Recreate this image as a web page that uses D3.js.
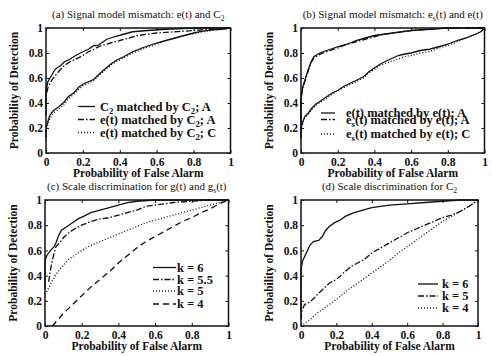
<!DOCTYPE html>
<html>
<head>
<meta charset="utf-8">
<script src="https://cdn.jsdelivr.net/npm/d3@7"></script>
<style>
  body { margin: 0; background: #fff; }
  svg { font-family: "Liberation Serif", "DejaVu Serif", serif; }
</style>
</head>
<body>
<script>
// tick labels shared by every panel
const tickValues = [0, 0.2, 0.4, 0.6, 0.8, 1];
const tickLabels = ["0", "0.2", "0.4", "0.6", "0.8", "1"];

// (a) signal model mismatch: e(t) and C2  -- [Pfa, Pd]
const aC2A = [[0,0.35],[0,0.5],[0.01,0.57],[0.03,0.62],[0.05,0.67],[0.08,0.70],[0.1,0.73],[0.13,0.75],[0.16,0.78],[0.2,0.81],[0.23,0.83],[0.26,0.86],[0.28,0.86],[0.3,0.88],[0.33,0.91],[0.37,0.93],[0.42,0.95],[0.47,0.97],[0.55,0.98],[0.65,0.99],[0.8,1],[1,1]];
const aEtA = [[0,0.3],[0,0.45],[0.01,0.52],[0.03,0.58],[0.05,0.62],[0.08,0.67],[0.1,0.70],[0.13,0.73],[0.16,0.75],[0.2,0.78],[0.23,0.81],[0.26,0.83],[0.3,0.86],[0.35,0.88],[0.4,0.90],[0.45,0.92],[0.5,0.94],[0.6,0.96],[0.7,0.97],[0.8,0.98],[0.9,0.99],[1,1]];
const aC2Low = [[0,0.12],[0,0.2],[0.01,0.25],[0.02,0.3],[0.04,0.34],[0.07,0.37],[0.1,0.41],[0.12,0.45],[0.15,0.48],[0.18,0.53],[0.2,0.55],[0.23,0.57],[0.26,0.59],[0.28,0.62],[0.31,0.66],[0.35,0.71],[0.38,0.74],[0.42,0.77],[0.47,0.81],[0.52,0.84],[0.56,0.86],[0.6,0.88],[0.65,0.9],[0.7,0.92],[0.75,0.94],[0.8,0.96],[0.85,0.975],[0.9,0.985],[0.95,0.99],[1,1]];
const aEtC = [[0,0.1],[0,0.17],[0.01,0.23],[0.02,0.27],[0.04,0.32],[0.07,0.35],[0.1,0.39],[0.12,0.43],[0.15,0.47],[0.18,0.51],[0.2,0.54],[0.23,0.56],[0.26,0.58],[0.28,0.61],[0.31,0.65],[0.35,0.7],[0.38,0.73],[0.42,0.76],[0.47,0.8],[0.52,0.83],[0.56,0.85],[0.6,0.87],[0.65,0.9],[0.7,0.92],[0.75,0.94],[0.8,0.955],[0.85,0.97],[0.9,0.98],[0.95,0.99],[1,1]];

// (b) signal model mismatch: es(t) and e(t)
const bEtA = [[0,0.2],[0,0.45],[0.01,0.53],[0.025,0.6],[0.04,0.67],[0.055,0.73],[0.07,0.77],[0.09,0.79],[0.12,0.81],[0.16,0.83],[0.2,0.85],[0.25,0.87],[0.3,0.9],[0.35,0.92],[0.4,0.94],[0.45,0.95],[0.5,0.96],[0.55,0.97],[0.6,0.98],[0.7,0.99],[0.8,1],[1,1]];
const bEsA = [[0,0.18],[0,0.43],[0.01,0.52],[0.025,0.59],[0.04,0.66],[0.055,0.72],[0.07,0.76],[0.09,0.78],[0.12,0.8],[0.16,0.82],[0.2,0.84],[0.25,0.87],[0.3,0.89],[0.35,0.91],[0.4,0.93],[0.45,0.95],[0.5,0.96],[0.55,0.97],[0.6,0.98],[0.7,0.99],[0.8,1],[1,1]];
const bEtLow = [[0,0.12],[0,0.2],[0.01,0.25],[0.02,0.29],[0.04,0.32],[0.06,0.36],[0.08,0.39],[0.1,0.41],[0.13,0.44],[0.17,0.48],[0.2,0.5],[0.23,0.53],[0.27,0.56],[0.3,0.58],[0.34,0.61],[0.37,0.65],[0.4,0.68],[0.43,0.71],[0.47,0.74],[0.5,0.76],[0.53,0.78],[0.56,0.79],[0.6,0.8],[0.65,0.82],[0.7,0.83],[0.75,0.85],[0.8,0.87],[0.85,0.9],[0.9,0.92],[0.95,0.95],[0.98,0.97],[1,1]];
const bEsC = [[0,0.11],[0,0.19],[0.01,0.24],[0.02,0.28],[0.04,0.31],[0.06,0.35],[0.08,0.38],[0.1,0.4],[0.13,0.43],[0.17,0.47],[0.2,0.5],[0.23,0.52],[0.27,0.55],[0.3,0.57],[0.34,0.6],[0.37,0.64],[0.4,0.67],[0.43,0.7],[0.47,0.72],[0.5,0.74],[0.53,0.75],[0.56,0.77],[0.6,0.78],[0.65,0.8],[0.7,0.81],[0.75,0.84],[0.8,0.86],[0.85,0.89],[0.9,0.92],[0.95,0.95],[0.98,0.97],[1,1]];

// (c) scale discrimination for g(t) and gs(t)
const cK6 = [[0,0.3],[0,0.52],[0.01,0.56],[0.03,0.6],[0.05,0.63],[0.06,0.66],[0.075,0.72],[0.09,0.76],[0.12,0.79],[0.15,0.82],[0.18,0.85],[0.21,0.87],[0.25,0.9],[0.3,0.92],[0.35,0.94],[0.4,0.96],[0.45,0.98],[0.5,0.99],[0.6,1],[1,1]];
const cK55 = [[0.02,0.35],[0.03,0.45],[0.04,0.52],[0.05,0.58],[0.06,0.63],[0.08,0.66],[0.1,0.7],[0.13,0.74],[0.16,0.77],[0.2,0.8],[0.25,0.83],[0.3,0.85],[0.35,0.86],[0.4,0.88],[0.45,0.9],[0.5,0.92],[0.55,0.95],[0.6,0.96],[0.7,0.98],[0.8,0.99],[0.9,1],[1,1]];
const cK5 = [[0,0.25],[0.02,0.3],[0.04,0.36],[0.06,0.41],[0.08,0.45],[0.1,0.48],[0.13,0.53],[0.16,0.56],[0.2,0.6],[0.25,0.64],[0.3,0.67],[0.35,0.7],[0.4,0.73],[0.45,0.76],[0.5,0.79],[0.55,0.82],[0.6,0.84],[0.65,0.86],[0.7,0.88],[0.75,0.9],[0.8,0.92],[0.85,0.94],[0.9,0.96],[0.95,0.98],[1,1]];
const cK4 = [[0.04,0],[0.1,0.1],[0.15,0.17],[0.2,0.24],[0.25,0.31],[0.3,0.37],[0.35,0.43],[0.4,0.5],[0.45,0.56],[0.5,0.62],[0.55,0.67],[0.6,0.71],[0.65,0.75],[0.7,0.79],[0.75,0.83],[0.8,0.86],[0.85,0.9],[0.9,0.93],[0.95,0.97],[1,1]];

// (d) scale discrimination for C2
const dK6 = [[0,0.1],[0,0.45],[0.01,0.52],[0.03,0.58],[0.05,0.64],[0.07,0.67],[0.1,0.68],[0.12,0.71],[0.14,0.76],[0.16,0.79],[0.19,0.82],[0.22,0.84],[0.25,0.87],[0.3,0.9],[0.35,0.92],[0.4,0.94],[0.5,0.96],[0.6,0.97],[0.7,0.98],[0.8,0.99],[0.9,1],[1,1]];
const dK5 = [[0,0.05],[0.005,0.12],[0.02,0.17],[0.05,0.19],[0.08,0.23],[0.1,0.26],[0.13,0.3],[0.16,0.34],[0.2,0.37],[0.24,0.42],[0.28,0.47],[0.32,0.5],[0.36,0.53],[0.4,0.58],[0.45,0.62],[0.5,0.66],[0.55,0.7],[0.6,0.74],[0.65,0.77],[0.7,0.8],[0.75,0.83],[0.8,0.86],[0.85,0.88],[0.9,0.91],[0.95,0.95],[1,1]];
const dK4 = [[0,0],[0.05,0.05],[0.1,0.11],[0.15,0.16],[0.2,0.21],[0.25,0.27],[0.3,0.32],[0.35,0.37],[0.4,0.42],[0.45,0.47],[0.5,0.52],[0.55,0.58],[0.6,0.63],[0.65,0.68],[0.7,0.73],[0.75,0.78],[0.8,0.83],[0.85,0.87],[0.9,0.91],[0.95,0.95],[1,1]];

const dash = {
  solid: null,
  dashdot: "6,2,1.5,2",
  dotted: "1,2",
  dashed: "6,4"
};

const panels = [
  { title: "(a) Signal model mismatch: e(t) and C_2", x0: 46, x1: 230.5, y0: 153, y1: 28,
    series: [
      { data: aC2A, style: "solid" }, { data: aEtA, style: "dashdot" },
      { data: aC2Low, style: "solid" }, { data: aEtC, style: "dotted" }
    ],
    legend: { lx0: 78, lx1: 95, tx: 100, rows: [
      { label: "C_2 matched by C_2; A", style: "solid", y: 110.5 },
      { label: "e(t) matched by C_2; A", style: "dashdot", y: 123.5 },
      { label: "e(t) matched by C_2; C", style: "dotted", y: 136.5 }
    ]}
  },
  { title: "(b) Signal model mismatch: e_s(t) and e(t)", x0: 301, x1: 484.5, y0: 153, y1: 28,
    series: [
      { data: bEtA, style: "solid" }, { data: bEsA, style: "dashdot" },
      { data: bEtLow, style: "solid" }, { data: bEsC, style: "dotted" }
    ],
    legend: { lx0: 321, lx1: 335, tx: 346, rows: [
      { label: "e(t) matched by e(t); A", style: "solid", y: 117 },
      { label: "e_s(t) matched by e(t); A", style: "dashdot", y: 123.5 },
      { label: "e_s(t) matched by e(t); C", style: "dotted", y: 138 }
    ]}
  },
  { title: "(c) Scale discrimination for g(t) and g_s(t)", x0: 45, x1: 228.5, y0: 326, y1: 200,
    series: [
      { data: cK6, style: "solid" }, { data: cK55, style: "dashdot" },
      { data: cK5, style: "dotted" }, { data: cK4, style: "dashed" }
    ],
    legend: { lx0: 153, lx1: 176, tx: 177, rows: [
      { label: "k = 6", style: "solid", y: 271.5 },
      { label: "k = 5.5", style: "dashdot", y: 283.5 },
      { label: "k = 5", style: "dotted", y: 295 },
      { label: "k = 4", style: "dashed", y: 308 }
    ]}
  },
  { title: "(d) Scale discrimination for C_2", x0: 301, x1: 478, y0: 326, y1: 200,
    series: [
      { data: dK6, style: "solid" }, { data: dK5, style: "dashdot" }, { data: dK4, style: "dotted" }
    ],
    legend: { lx0: 418, lx1: 438, tx: 442, rows: [
      { label: "k = 6", style: "solid", y: 288 },
      { label: "k = 5", style: "dashdot", y: 300 },
      { label: "k = 4", style: "dotted", y: 312 }
    ]}
  }
];

const svg = d3.select("body").append("svg")
  .attr("width", 492)
  .attr("height", 356);

svg.append("rect").attr("width", 492).attr("height", 356).attr("fill", "#fff");

// writes "C_2" style strings as tspans, the char after "_" as a subscript
function richText(sel, str) {
  const parts = str.split(/_(\w)/);
  let shift = 0;
  parts.forEach((p, i) => {
    if (!p) return;
    const t = sel.append("tspan").text(p);
    if (i % 2 === 1) {
      t.attr("dy", 3).attr("font-size", "0.7em");
      shift = -3;
    } else if (shift) {
      t.attr("dy", shift);
      shift = 0;
    }
  });
  return sel;
}

panels.forEach(p => {
  const x = d3.scaleLinear().domain([0, 1]).range([p.x0, p.x1]);
  const y = d3.scaleLinear().domain([0, 1]).range([p.y0, p.y1]);
  const g = svg.append("g");

  // inward ticks on all four sides
  g.append("g").attr("transform", `translate(0,${p.y0})`)
    .call(d3.axisBottom(x).tickValues(tickValues).tickFormat((d, i) => tickLabels[i]).tickSize(-3).tickPadding(5))
    .call(a => a.select(".domain").remove());
  g.append("g").attr("transform", `translate(0,${p.y1})`)
    .call(d3.axisTop(x).tickValues(tickValues).tickFormat("").tickSize(-3))
    .call(a => a.select(".domain").remove());
  g.append("g").attr("transform", `translate(${p.x0},0)`)
    .call(d3.axisLeft(y).tickValues(tickValues).tickFormat((d, i) => tickLabels[i]).tickSize(-3).tickPadding(3))
    .call(a => a.select(".domain").remove());
  g.append("g").attr("transform", `translate(${p.x1},0)`)
    .call(d3.axisRight(y).tickValues(tickValues).tickFormat("").tickSize(-3))
    .call(a => a.select(".domain").remove());

  g.selectAll(".tick line").attr("stroke", "#111").attr("stroke-width", 1);
  g.selectAll(".tick text").filter(function () { return this.textContent === ""; }).remove();
  g.selectAll(".tick text")
    .attr("font-family", "Liberation Serif, serif")
    .attr("font-size", 11.5).attr("font-weight", "bold").attr("fill", "#111");

  g.append("rect")
    .attr("x", p.x0).attr("y", p.y1)
    .attr("width", p.x1 - p.x0).attr("height", p.y0 - p.y1)
    .attr("fill", "none").attr("stroke", "#111").attr("stroke-width", 1.5);

  const line = d3.line().x(d => x(d[0])).y(d => y(d[1]));
  g.selectAll("path.curve").data(p.series).enter().append("path")
    .attr("class", "curve")
    .attr("d", s => line(s.data))
    .attr("fill", "none").attr("stroke", "#111").attr("stroke-width", 1.3)
    .attr("stroke-dasharray", s => dash[s.style]);

  // labels
  const cx = (p.x0 + p.x1) / 2;
  richText(g.append("text").attr("x", cx).attr("y", p.y1 - 10)
    .attr("text-anchor", "middle").attr("font-size", 11).attr("fill", "#111"), p.title);
  g.append("text").attr("x", cx).attr("y", p.y0 + 24)
    .attr("text-anchor", "middle").attr("font-size", 11.5).attr("font-weight", "bold")
    .attr("fill", "#111").text("Probability of False Alarm");
  g.append("text")
    .attr("transform", `translate(${p.x0 - 28},${(p.y0 + p.y1) / 2}) rotate(-90)`)
    .attr("text-anchor", "middle").attr("font-size", 11.5).attr("font-weight", "bold")
    .attr("fill", "#111").text("Probability of Detection");

  // legend
  const L = p.legend;
  L.rows.forEach(r => {
    g.append("line").attr("x1", L.lx0).attr("x2", L.lx1).attr("y1", r.y - 4).attr("y2", r.y - 4)
      .attr("stroke", "#111").attr("stroke-width", 1.3).attr("stroke-dasharray", dash[r.style]);
    richText(g.append("text").attr("x", L.tx).attr("y", r.y)
      .attr("font-size", 12.5).attr("font-weight", "bold").attr("fill", "#111"), r.label);
  });
});
</script>
</body>
</html>
